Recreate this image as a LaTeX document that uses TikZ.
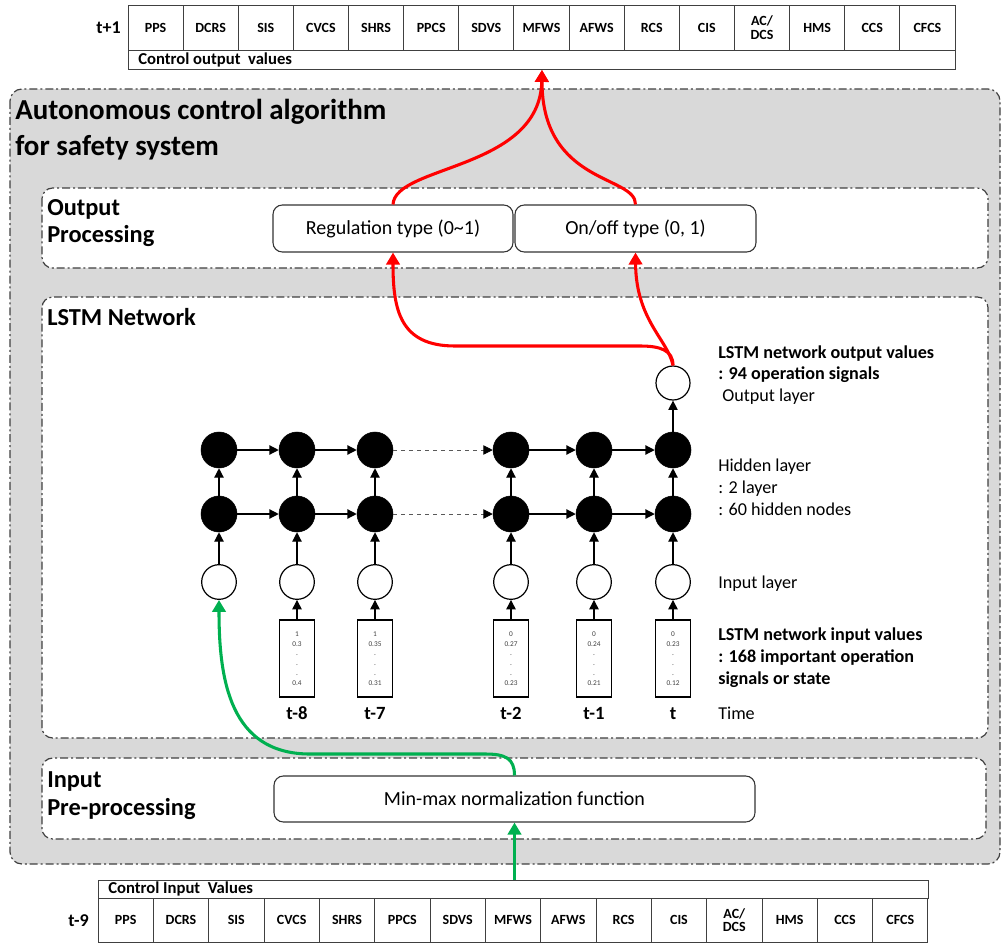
\documentclass[tikz,border=0pt]{standalone}
\usepackage{fontspec}
\setmainfont{Carlito}
\usetikzlibrary{arrows.meta}
\definecolor{boxgrey}{HTML}{D9D9D9}
\definecolor{lred}{HTML}{FF0000}
\definecolor{lgreen}{HTML}{00B050}
\definecolor{edgecol}{HTML}{404040}
\begin{document}
\begin{tikzpicture}[x=0.75pt,y=-0.75pt,
  dashdot/.style={draw=black!75, line width=0.9pt, dash pattern=on 6pt off 2.2pt on 1.5pt off 2.2pt},
  region/.style={dashdot, rounded corners=8pt},
  cell/.style={draw=edgecol, line width=0.7pt, minimum width=41.35pt, minimum height=33.75pt, inner sep=0pt, font=\fontsize{10.5}{11}\selectfont\bfseries, align=center},
  rowbox/.style={draw=edgecol, line width=0.7pt, inner sep=0pt, anchor=north west},
  rowtext/.style={font=\fontsize{12.5}{13}\selectfont\bfseries, anchor=west, inner sep=0pt},
  timelab/.style={font=\fontsize{13.5}{14}\selectfont\bfseries, inner sep=0pt},
  titletext/.style={font=\fontsize{21.7}{24}\selectfont\bfseries, anchor=base west, inner sep=0pt},
  sectext/.style={font=\fontsize{18.3}{20}\selectfont\bfseries, anchor=base west, inner sep=0pt},
  procbox/.style={draw=black!80, line width=0.8pt, fill=white, rounded corners=7pt, font=\fontsize{15}{17}\selectfont, inner sep=0pt},
  hid/.style={circle, fill=black, draw=black, minimum size=27pt, inner sep=0pt},
  inp/.style={circle, fill=white, draw=black, line width=0.9pt, minimum size=26pt, inner sep=0pt},
  vec/.style={draw=black, line width=0.9pt, fill=white, minimum width=26.25pt, minimum height=57.75pt, inner sep=0pt, align=center, font=\fontsize{5.5}{7.35}\selectfont, text=black!75},
  rlab/.style={font=\fontsize{13.6}{15}\selectfont, anchor=base west, inner sep=0pt},
  rlabb/.style={rlab, font=\fontsize{13.6}{15}\selectfont\bfseries},
  tlab/.style={font=\fontsize{14}{15}\selectfont\bfseries, anchor=base, inner sep=0pt},
  barrow/.style={-{Triangle[length=7pt,width=7pt,black]}, line width=0.9pt, black},
  dasharrow/.style={-{Triangle[length=7pt,width=7pt,black]}, dashed, draw=black!65, line width=0.6pt},
  redarrow/.style={-{Triangle[length=9pt,width=10pt]}, line width=2.3pt, lred},
  greenarrow/.style={-{Triangle[length=9pt,width=10pt]}, line width=2.3pt, lgreen}
]
\useasboundingbox (0,0) rectangle (1002,942);

% ---------- top table (t+1) ----------
\node[timelab, anchor=east] (tp1) at (121,28) {t+1};
\foreach \lab [count=\i] in {PPS,DCRS,SIS,CVCS,SHRS,PPCS,SDVS,MFWS,AFWS,RCS,CIS,{AC/\\[-1pt]DCS},HMS,CCS,CFCS}{
  \node[cell] (tc\i) at ({128+55.13*(\i-0.5)},27.5) {\lab};
}
\node[rowbox, minimum width=620.25pt, minimum height=14.25pt] (outrow) at (128,50) {};
\node[rowtext] (outrowtext) at (138,60) {Control output\ \ values};

% ---------- outer region ----------
\draw[region, fill=boxgrey, rounded corners=9pt] (10,89) rectangle (1000,864);
\node[titletext] (title1) at (15,119) {Autonomous control algorithm};
\node[titletext] (title2) at (15,155) {for safety system};

% ---------- output processing ----------
\draw[region, fill=white] (42,188) rectangle (988,268);
\node[sectext] (op1) at (47,215) {Output};
\node[sectext] (op2) at (47,242) {Processing};
\node[procbox, minimum width=180pt, minimum height=35.25pt] (reg) at (393,228.5) {Regulation type (0\textasciitilde 1)};
\node[procbox, minimum width=180.75pt, minimum height=35.25pt] (onoff) at (635.5,228.5) {On/off type (0, 1)};

% ---------- LSTM network ----------
\draw[region, fill=white] (42,297) rectangle (988,738);
\node[sectext] (lstmt) at (47,325) {LSTM Network};

\foreach \x [count=\i] in {219,297,375,511,594,673}{
  \node[hid] (hb\i) at (\x,514) {};
  \node[hid] (ht\i) at (\x,450) {};
  \node[inp] (in\i) at (\x,582) {};
  \draw[barrow] (in\i) -- (hb\i);
  \draw[barrow] (hb\i) -- (ht\i);
}
\node[inp, minimum size=25.5pt] (outn) at (673,383) {};
\draw[barrow] (ht6) -- (outn);

\foreach \a/\b in {1/2,2/3,4/5,5/6}{
  \draw[barrow] (ht\a) -- (ht\b);
  \draw[barrow] (hb\a) -- (hb\b);
}
\draw[dasharrow] (ht3) -- (ht4);
\draw[dasharrow] (hb3) -- (hb4);

% input vectors
\foreach \i/\x/\va/\vb/\vc/\tl in {2/297/1/0.3/0.4/t-8, 3/375/1/0.35/0.31/t-7, 4/511/0/0.27/0.23/t-2, 5/594/0/0.24/0.21/t-1, 6/673/0/0.23/0.12/t}{
  \node[vec] (v\i) at (\x,658.5) {\va\\\vb\\.\\.\\.\\\vc};
  \draw[barrow] (v\i) -- (in\i);
  \node[tlab] (tl\i) at (\x,719) {\tl};
}

% right-hand labels
\node[rlabb] (r1) at (718,358) {LSTM network output values};
\node[rlabb] (r2) at (718,379) {: 94 operation signals};
\node[rlab] (r3) at (722,401) {Output layer};
\node[rlab] (r4) at (718,471) {Hidden layer};
\node[rlab] (r5) at (718,493) {: 2 layer};
\node[rlab] (r6) at (718,515) {: 60 hidden nodes};
\node[rlab] (r7) at (718,588) {Input layer};
\node[rlabb] (r8) at (718,640) {LSTM network input values};
\node[rlabb] (r9) at (718,662) {: 168 important operation};
\node[rlabb] (r10) at (718,684) {signals or state};
\node[rlab] (r11) at (718,719) {Time};

% ---------- input pre-processing ----------
\draw[region, fill=white] (42,758) rectangle (986,839);
\node[sectext] (ip1) at (47,787) {Input};
\node[sectext] (ip2) at (47,815) {Pre-processing};
\node[procbox, minimum width=360.75pt, minimum height=34.5pt] (minmax) at (514.5,799) {Min-max normalization function};

% ---------- bottom table (t-9) ----------
\node[rowbox, minimum width=622.5pt, minimum height=13.5pt] (inrow) at (98,880) {};
\node[rowtext] (inrowtext) at (108,889) {Control Input\ \ Values};
\node[timelab, anchor=east] (tm9) at (89,921) {t-9};
\foreach \lab [count=\i] in {PPS,DCRS,SIS,CVCS,SHRS,PPCS,SDVS,MFWS,AFWS,RCS,CIS,{AC/\\[-1pt]DCS},HMS,CCS,CFCS}{
  \node[cell, minimum width=41.5pt, minimum height=33pt] (bc\i) at ({98+55.33*(\i-0.5)},920) {\lab};
}

% ---------- coloured connectors ----------
\draw[redarrow] (reg.north) .. controls (395,165) and (540,170) .. (outrow.south);
\draw[redarrow] (onoff.north) .. controls (636,175) and (542,185) .. (outrow.south);
\draw[redarrow] (outn.north) .. controls (673,350) and (660,346) .. (640,346) -- (455,346) .. controls (400,346) and (393,310) .. (reg.south);
\draw[redarrow] (outn.north) .. controls (668,340) and (636,320) .. (onoff.south);

\coordinate (gin) at (514.5,880);
\draw[greenarrow] (gin) -- (minmax.south);
\draw[greenarrow] (minmax.north) .. controls (514.5,758) and (505,754) .. (485,754) -- (310,754) .. controls (230,754) and (219,680) .. (in1.south);
\end{tikzpicture}
\end{document}
